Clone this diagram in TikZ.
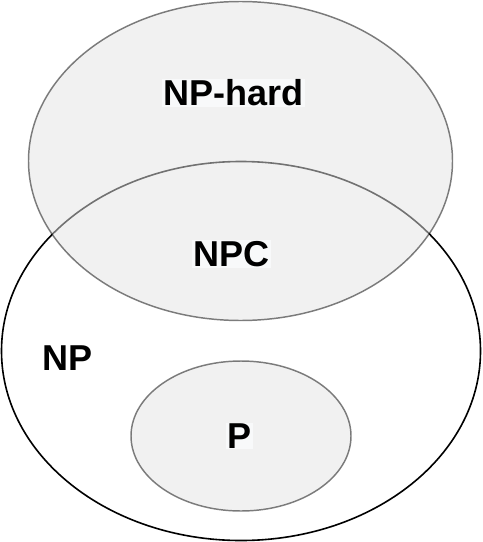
\documentclass[tikz,border=0pt]{standalone}
\usepackage{fontspec}
\setmainfont{Liberation Sans}
\usepackage{tikz}
\definecolor{setfill}{RGB}{228,228,228}
\definecolor{labelbg}{RGB}{248,249,250}

\begin{document}
\begin{tikzpicture}[x=0.75pt,y=0.75pt,yscale=-1,xscale=1,
  setlabel/.style={inner sep=0.75pt, fill=labelbg, font=\fontsize{27}{31}\selectfont\bfseries},
  setshape/.style={opacity=0.5, fill=setfill, draw=black, line width=1.1pt}]
\useasboundingbox (0,0) rectangle (482,542);

% Shape: Ellipse
\draw [line width=1.2pt] (241,351) ellipse [x radius=239.5, y radius=189.5];
% Shape: Ellipse
\draw [setshape] (240.5,161) ellipse [x radius=212, y radius=159.5];
% Shape: Ellipse
\draw [setshape] (241,436) ellipse [x radius=110, y radius=75];

% Text Node
\draw (233.5,93) node (nphard) [setlabel] {NP-hard};
% Text Node
\draw (231.5,254) node (npc) [setlabel] {NPC};
% Text Node
\draw (68,358) node (np) [setlabel, fill=none] {NP};
% Text Node
\draw (239.5,436) node (p) [setlabel] {P};

\end{tikzpicture}
\end{document}
